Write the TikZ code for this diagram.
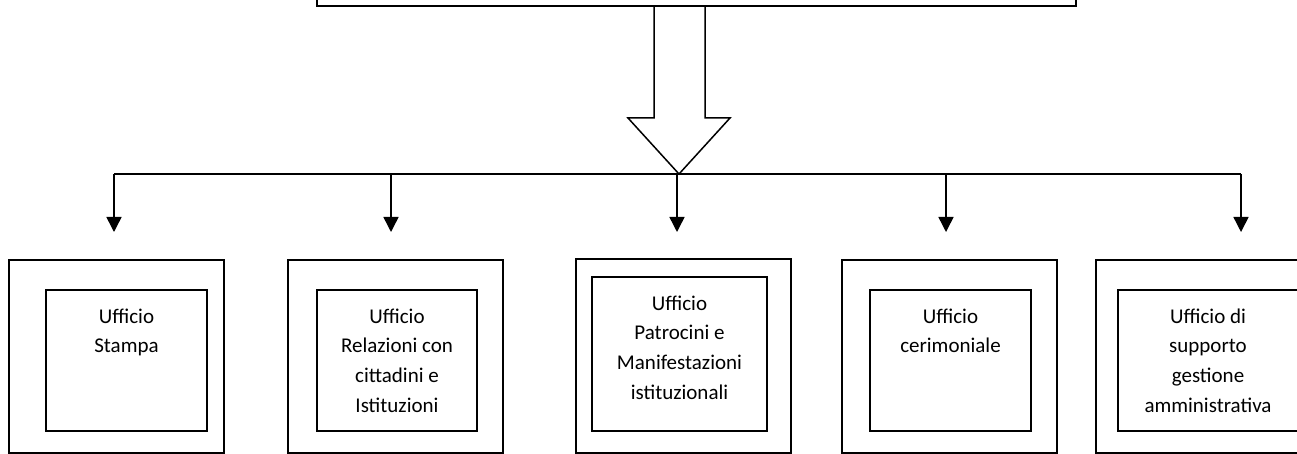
\documentclass[tikz,border=0pt]{standalone}
\usepackage{fontspec}
\setmainfont{Carlito}
\usetikzlibrary{arrows.meta}
\begin{document}
\begin{tikzpicture}[x=1pt,y=-1pt,line width=1.5pt,
  boxline/.style={draw=black,line width=1.5pt,inner sep=0pt,outer sep=0pt},
  label/.style={inner sep=0pt,anchor=north,align=center,font=\fontsize{21}{29.6}\selectfont},
  branch/.style={line width=1.5pt,-{Triangle[width=15pt,length=15pt]}}]
\useasboundingbox (0,0) rectangle (1297,454);
\fill[white] (0,0) rectangle (1297,454);
% top box (cut by the top edge)
\node[boxline,minimum width=759pt,minimum height=66pt] (top) at (696.5,-27) {};
% big hollow arrow
\draw[line width=1.5pt,line join=miter] (654,6) -- (654,118) -- (628,118) -- (679,174) -- (730,118) -- (705,118) -- (705,6);
% distribution bar
\coordinate (bl) at (114,174);
\coordinate (br) at (1241,174);
\draw (bl) -- (br);
\foreach \i/\x in {1/114,2/391,3/677,4/946,5/1241}{
  \coordinate (s\i) at (\x,174);
  \coordinate (e\i) at (\x,232);
  \draw[branch] (s\i) -- (e\i);
}
% boxes
\node[boxline,minimum width=215pt,minimum height=193pt] (o1) at (116.5,356.5) {};
\node[boxline,minimum width=161pt,minimum height=141pt] (i1) at (126.5,360.5) {};
\node[label] (t1) at (126.5,308) {Ufficio\\Stampa};

\node[boxline,minimum width=215pt,minimum height=193pt] (o2) at (395.5,356.5) {};
\node[boxline,minimum width=160pt,minimum height=141pt] (i2) at (397,360.5) {};
\node[label] (t2) at (397,308) {Ufficio\\Relazioni con\\cittadini e\\Istituzioni};

\node[boxline,minimum width=215pt,minimum height=194pt] (o3) at (683.5,356) {};
\node[boxline,minimum width=175pt,minimum height=154pt] (i3) at (679.5,354) {};
\node[label] (t3) at (679.5,295) {Ufficio\\Patrocini e\\Manifestazioni\\istituzionali};

\node[boxline,minimum width=215pt,minimum height=193pt] (o4) at (949.5,356.5) {};
\node[boxline,minimum width=161pt,minimum height=141pt] (i4) at (950.5,360.5) {};
\node[label] (t4) at (950.5,308) {Ufficio\\cerimoniale};

\node[boxline,minimum width=215pt,minimum height=193pt] (o5) at (1203.5,356.5) {};
\node[boxline,minimum width=182pt,minimum height=141pt] (i5) at (1209,360.5) {};
\node[label] (t5) at (1208,308) {Ufficio di\\supporto\\gestione\\amministrativa};
\end{tikzpicture}
\end{document}
